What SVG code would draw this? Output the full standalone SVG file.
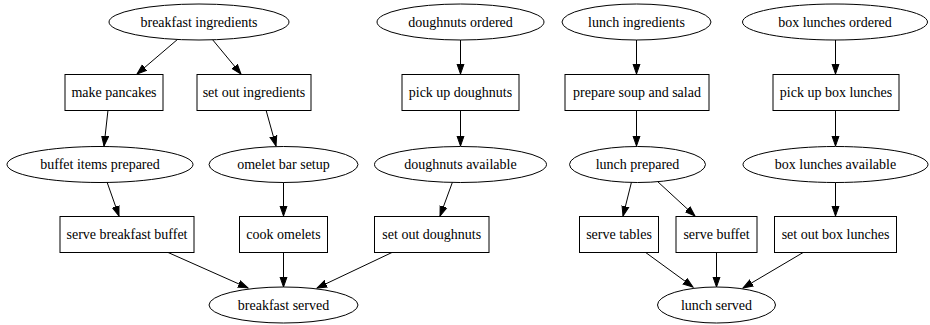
<svg xmlns="http://www.w3.org/2000/svg" width="930" height="325" viewBox="0 0 930 325">
<style>
.n ellipse, .n rect { fill: #fff; stroke: #000; stroke-width: 1; }
.n text { font-family: "Liberation Serif", "Times New Roman", serif; font-size: 14px; text-anchor: middle; fill: #000; }
#edges line { stroke: #000; stroke-width: 1; marker-end: url(#arr); }
</style>
<defs>
<marker id="arr" markerUnits="userSpaceOnUse" markerWidth="12" markerHeight="10" refX="10" refY="0" viewBox="0 -5 12 10" orient="auto">
<path d="M0,-3.5 L10,0 L0,3.5 z" fill="#000" stroke="#000" stroke-width="1"/>
</marker>
</defs>
<rect width="930" height="325" fill="#fff"/>
<g id="edges">
<line x1="178" y1="39" x2="137" y2="74"/>
<line x1="212" y1="39" x2="241" y2="74"/>
<line x1="460.5" y1="40" x2="460.5" y2="74"/>
<line x1="636.5" y1="40" x2="636.5" y2="74"/>
<line x1="835.5" y1="40" x2="835.5" y2="74"/>
<line x1="108" y1="110" x2="104" y2="146"/>
<line x1="266" y1="110" x2="276" y2="146"/>
<line x1="460.5" y1="110" x2="460.5" y2="146"/>
<line x1="636.5" y1="110" x2="636.5" y2="146"/>
<line x1="835.5" y1="110" x2="835.5" y2="146"/>
<line x1="107" y1="182" x2="119" y2="216"/>
<line x1="283.5" y1="182" x2="283.5" y2="216"/>
<line x1="452.5" y1="182" x2="440" y2="216"/>
<line x1="631.5" y1="182" x2="623" y2="216"/>
<line x1="657" y1="181" x2="695" y2="216"/>
<line x1="835.5" y1="182" x2="835.5" y2="216"/>
<line x1="167" y1="252" x2="248" y2="288"/>
<line x1="283.5" y1="252" x2="283.5" y2="287"/>
<line x1="393" y1="252" x2="317" y2="288"/>
<line x1="645" y1="252" x2="693" y2="287"/>
<line x1="716.5" y1="252" x2="716.5" y2="287"/>
<line x1="804" y1="252" x2="743" y2="288"/>
</g>
<g id="breakfast_ingredients" class="n"><ellipse cx="199" cy="22" rx="90" ry="18"/><text x="199" y="26.5">breakfast ingredients</text></g>
<g id="doughnuts_ordered" class="n"><ellipse cx="460.5" cy="22" rx="83.5" ry="18"/><text x="460.5" y="26.5">doughnuts ordered</text></g>
<g id="lunch_ingredients" class="n"><ellipse cx="636.5" cy="22" rx="74.5" ry="18"/><text x="636.5" y="26.5">lunch ingredients</text></g>
<g id="box_lunches_ordered" class="n"><ellipse cx="835" cy="22" rx="92.5" ry="18"/><text x="835" y="26.5">box lunches ordered</text></g>
<g id="make_pancakes" class="n"><rect x="65" y="74.5" width="98" height="36"/><text x="114" y="97">make pancakes</text></g>
<g id="set_out_ingredients" class="n"><rect x="197" y="74.5" width="114" height="36"/><text x="254" y="97">set out ingredients</text></g>
<g id="pick_up_doughnuts" class="n"><rect x="402" y="74.5" width="117" height="36"/><text x="460.5" y="97">pick up doughnuts</text></g>
<g id="prepare_soup_and_salad" class="n"><rect x="565" y="74.5" width="144" height="36"/><text x="637" y="97">prepare soup and salad</text></g>
<g id="pick_up_box_lunches" class="n"><rect x="773" y="74.5" width="126" height="36"/><text x="836" y="97">pick up box lunches</text></g>
<g id="buffet_items_prepared" class="n"><ellipse cx="100" cy="164.5" rx="93" ry="18"/><text x="100" y="169">buffet items prepared</text></g>
<g id="omelet_bar_setup" class="n"><ellipse cx="283.5" cy="164.5" rx="74.5" ry="18"/><text x="283.5" y="169">omelet bar setup</text></g>
<g id="doughnuts_available" class="n"><ellipse cx="460.5" cy="164.5" rx="86" ry="18"/><text x="460.5" y="169">doughnuts available</text></g>
<g id="lunch_prepared" class="n"><ellipse cx="637.5" cy="164.5" rx="68" ry="18"/><text x="637.5" y="169">lunch prepared</text></g>
<g id="box_lunches_available" class="n"><ellipse cx="835.5" cy="164.5" rx="92.5" ry="18"/><text x="835.5" y="169">box lunches available</text></g>
<g id="serve_breakfast_buffet" class="n"><rect x="60" y="216.5" width="134" height="36"/><text x="127" y="239">serve breakfast buffet</text></g>
<g id="cook_omelets" class="n"><rect x="239.5" y="216.5" width="88" height="36"/><text x="283.5" y="239">cook omelets</text></g>
<g id="set_out_doughnuts" class="n"><rect x="374.5" y="216.5" width="114.5" height="36"/><text x="431.75" y="239">set out doughnuts</text></g>
<g id="serve_tables" class="n"><rect x="579.5" y="216.5" width="79" height="36"/><text x="619" y="239">serve tables</text></g>
<g id="serve_buffet" class="n"><rect x="676" y="216.5" width="81" height="36"/><text x="716.5" y="239">serve buffet</text></g>
<g id="set_out_box_lunches" class="n"><rect x="774.5" y="216.5" width="122" height="36"/><text x="835.5" y="239">set out box lunches</text></g>
<g id="breakfast_served" class="n"><ellipse cx="283.5" cy="305" rx="74.5" ry="18"/><text x="283.5" y="309.5">breakfast served</text></g>
<g id="lunch_served" class="n"><ellipse cx="716.5" cy="305" rx="59" ry="18"/><text x="716.5" y="309.5">lunch served</text></g>
</svg>
